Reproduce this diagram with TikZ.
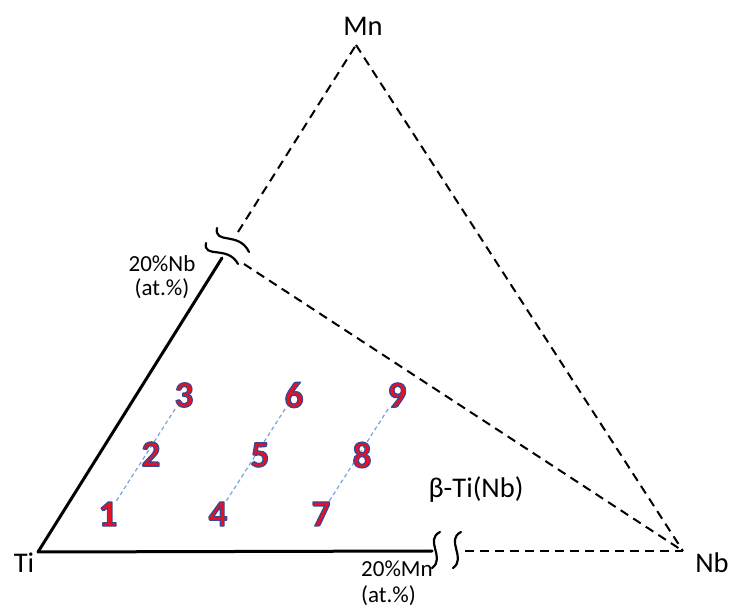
\documentclass[tikz,border=0pt]{standalone}
\usepackage{fontspec}
\setmainfont{Carlito}
\usetikzlibrary{backgrounds}
\definecolor{lineblue}{HTML}{7BA3D8}
\begin{document}
\begin{tikzpicture}[x=1pt,y=-1pt,
  lbl/.style={inner sep=0pt,anchor=base,font=\fontsize{28.5}{30}\selectfont},
  small/.style={inner sep=0pt,anchor=base,font=\fontsize{23}{25}\selectfont},
  num/.style={inner sep=1pt,font=\fontsize{37}{39}\selectfont\bfseries},
  solidedge/.style={line width=3pt,line cap=round},
  dashedge/.style={line width=2pt,dash pattern=on 9pt off 6pt},
  breakmark/.style={line width=2.2pt,line cap=round},
  guide/.style={lineblue,line width=1.2pt,dash pattern=on 4pt off 3pt}]
\useasboundingbox (0,0) rectangle (729,609);
\newcommand{\numtxt}[1]{\special{pdf:literal direct 2 Tr 1.3 w 1 j 0.22 0.28 0.58 RG 0.93 0.06 0.12 rg}#1\special{pdf:literal direct 0 Tr 0 g 0 G}}

% corners
\coordinate (Ti) at (38,552);
\coordinate (Mn) at (356,45);
\coordinate (Nb) at (683,551);
\coordinate (bL) at (222,258);
\coordinate (bLu) at (238,232);
\coordinate (bLd) at (244,264);
\coordinate (bB) at (432,551);
\coordinate (bBr) at (465,551);

% edges
\draw[solidedge] (Ti) -- (bL);
\draw[solidedge] (Ti) -- (bB);
\draw[dashedge] (bLu) -- (Mn);
\draw[dashedge] (bLd) -- (Nb);
\draw[dashedge] (Mn) -- (Nb);
\draw[dashedge] (bBr) -- (Nb);

% break marks left
\draw[breakmark] (206,243) .. controls (203,259) and (228,245) .. (238,264);
\draw[breakmark] (217,228) .. controls (214,245) and (239,231) .. (249,252);
% break marks bottom
\draw[breakmark] (440,532) .. controls (424,540) and (446,558) .. (432,568);
\draw[breakmark] (461,532) .. controls (445,540) and (467,558) .. (453,568);

% labels
\node[lbl] (lMn) at (363,36) {Mn};
\node[lbl] (lTi) at (24,573) {Ti};
\node[lbl] (lNb) at (712,573) {Nb};
\node[lbl] (lbeta) at (476,498) {β-Ti(Nb)};
\node[small] (lNb20) at (162,272) {20\%Nb};
\node[small] (lNbat) at (162,296) {(at.\%)};
\node[small,anchor=base west] (lMn20) at (361,577) {20\%Mn};
\node[small,anchor=base west] (lMnat) at (361,603) {(at.\%)};

% numbers
\node[num] (n1) at (108,514) {\numtxt{1}};
\node[num] (n2) at (151,454) {\numtxt{2}};
\node[num] (n3) at (184,395) {\numtxt{3}};
\node[num] (n4) at (218,514) {\numtxt{4}};
\node[num] (n5) at (260,455) {\numtxt{5}};
\node[num] (n6) at (294,395) {\numtxt{6}};
\node[num] (n7) at (321,514) {\numtxt{7}};
\node[num] (n8) at (362,455) {\numtxt{8}};
\node[num] (n9) at (397,395) {\numtxt{9}};

\begin{scope}[on background layer]
  \draw[guide] (n1) -- (n3);
  \draw[guide] (n4) -- (n6);
  \draw[guide] (n7) -- (n9);
\end{scope}
\end{tikzpicture}
\end{document}
